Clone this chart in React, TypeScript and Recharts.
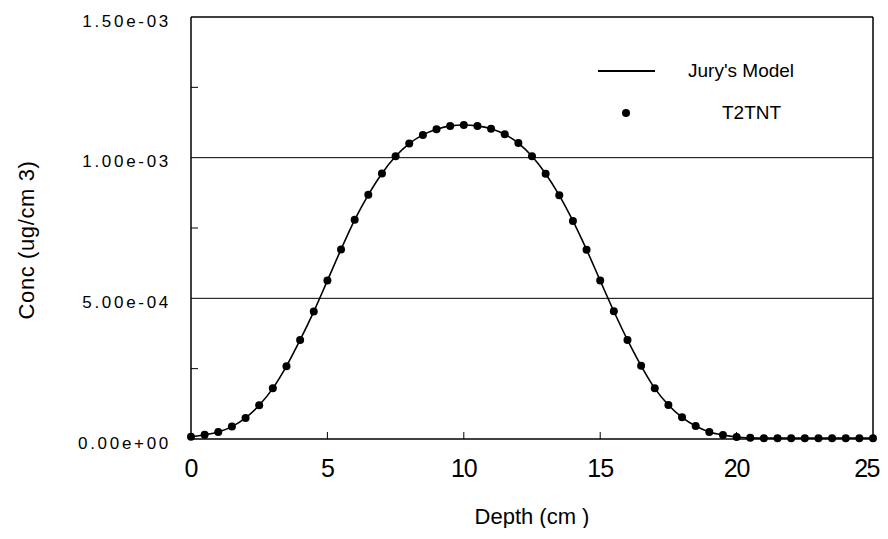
import React from 'react';
import { ComposedChart, Line, Scatter, XAxis, YAxis, ReferenceLine } from 'recharts';

const depths: number[] = [
  0, 0.5, 1, 1.5, 2, 2.5, 3, 3.5, 4, 4.5, 5, 5.5, 6, 6.5, 7, 7.5, 8, 8.5, 9, 9.5,
  10, 10.5, 11, 11.5, 12, 12.5, 13, 13.5, 14, 14.5, 15, 15.5, 16, 16.5, 17, 17.5,
  18, 18.5, 19, 19.5, 20, 20.5, 21, 21.5, 22, 22.5, 23, 23.5, 24, 24.5, 25,
];

// concentration in units of 1e-3 ug/cm3
const concMilli: number[] = [
  0.008, 0.015, 0.025, 0.044, 0.075, 0.12, 0.18, 0.259, 0.352, 0.453,
  0.563, 0.674, 0.779, 0.868, 0.944, 1.005, 1.05, 1.081, 1.101, 1.113,
  1.116, 1.113, 1.103, 1.083, 1.052, 1.005, 0.943, 0.866, 0.775, 0.673,
  0.563, 0.454, 0.352, 0.26, 0.18, 0.121, 0.077, 0.046, 0.025, 0.014,
  0.007, 0.004, 0.003, 0.003, 0.003, 0.003, 0.003, 0.003, 0.003, 0.003, 0.003,
];

const xTicks: number[] = [0, 5, 10, 15, 20, 25];
const yTicks: number[] = [0, 0.00025, 0.0005, 0.00075, 0.001, 0.00125, 0.0015];
const yMajor: number[] = [0, 0.0005, 0.001, 0.0015];
const gridLines: number[] = [0.0005, 0.001];
const seriesNames: string[] = ["Jury's Model", 'T2TNT'];
const xTitle = 'Depth (cm )';
const yTitle = 'Conc (ug/cm 3)';

const data = depths.map((d, i) => ({ depth: d, conc: concMilli[i] / 1000 }));

const FONT = 'Arial, "Liberation Sans", Helvetica, sans-serif';

const isMajor = (v: number) => yMajor.some((m) => Math.abs(m - v) < 1e-9);
const fmtExp = (v: number) => v.toExponential(2).replace(/e([+-])(\d)$/, 'e$10$2');

const LeftTick = (props: any) => {
  const { x, y, payload } = props;
  const v = payload.value as number;
  const major = isMajor(v);
  return (
    <g>
      {!major && <line x1={x} x2={x + 7} y1={y} y2={y} stroke="#000" strokeWidth={1} />}
      {major && (
        <text
          x={x - 20}
          y={y + 4}
          textAnchor="end"
          dominantBaseline="central"
          fontFamily={FONT}
          fontSize={17}
          letterSpacing={2.7}
          fill="#000"
        >
          {fmtExp(v)}
        </text>
      )}
    </g>
  );
};

const RightTick = (props: any) => {
  const { x, y, payload } = props;
  const v = payload.value as number;
  if (isMajor(v)) return <g />;
  return <line x1={x - 7} x2={x} y1={y} y2={y} stroke="#000" strokeWidth={1} />;
};

const BottomTick = (props: any) => {
  const { x, y, payload } = props;
  const v = payload.value as number;
  const last = v === xTicks[xTicks.length - 1];
  const inner = v !== xTicks[0] && !last;
  return (
    <g>
      {inner && <line x1={x} x2={x} y1={y} y2={y - 7} stroke="#000" strokeWidth={1} />}
      <text
        x={last ? Math.min(x + 13, 871) : x}
        y={y + 38}
        textAnchor={last ? 'end' : 'middle'}
        fontFamily={FONT}
        fontSize={25}
        letterSpacing={last ? -1.5 : -1}
        fill="#000"
      >
        {String(v)}
      </text>
    </g>
  );
};

const XTitle = (props: any) => {
  const vb = props.viewBox || {};
  const cx = (vb.x ?? 183) + (vb.width ?? 682) / 2;
  return (
    <text
      x={cx}
      y={516}
      textAnchor="middle"
      fontFamily={FONT}
      fontSize={22}
      fill="#000"
    >
      {xTitle}
    </text>
  );
};

const YTitle = (props: any) => {
  const vb = props.viewBox || {};
  const cy = (vb.y ?? 9) + (vb.height ?? 422) / 2 + 12;
  const cx = 18;
  return (
    <text
      x={cx}
      y={cy}
      transform={`rotate(-90, ${cx}, ${cy})`}
      textAnchor="middle"
      dominantBaseline="central"
      fontFamily={FONT}
      fontSize={22}
      letterSpacing={0.6}
      fill="#000"
    >
      {yTitle}
    </text>
  );
};

const LegendBox = () => (
  <div
    style={{
      position: 'absolute',
      left: 580,
      top: 40,
      width: 260,
      height: 100,
      fontFamily: FONT,
      color: '#000',
      pointerEvents: 'none',
    }}
  >
    <div style={{ position: 'absolute', left: 10, top: 22, width: 57, height: 2, background: '#000' }} />
    <div style={{ position: 'absolute', left: 100, top: 12, height: 22, lineHeight: '22px', fontSize: 19, whiteSpace: 'nowrap' }}>
      {seriesNames[0]}
    </div>
    <div style={{ position: 'absolute', left: 34, top: 61, width: 8, height: 8, borderRadius: 4, background: '#000' }} />
    <div style={{ position: 'absolute', left: 134, top: 54, height: 22, lineHeight: '22px', fontSize: 19, whiteSpace: 'nowrap' }}>
      {seriesNames[1]}
    </div>
  </div>
);

const Dot = (props: any) => {
  const { cx, cy } = props;
  return <circle cx={cx} cy={cy} r={4} fill="#000" />;
};

export default function App() {
  return (
    <div style={{ position: 'relative', width: 880, height: 520 }}>
      <style>{'html, body { overflow: hidden; } .recharts-surface { overflow: visible; }'}</style>
      <ComposedChart
        width={880}
        height={520}
        data={data}
        margin={{ top: 9, right: 0, bottom: 0, left: 0 }}
        style={{ fontFamily: FONT }}
      >
        <XAxis
          dataKey="depth"
          type="number"
          domain={[0, 25]}
          ticks={xTicks}
          interval={0}
          height={89}
          tickSize={0}
          tickMargin={0}
          tickLine={false}
          axisLine={{ stroke: '#000', strokeWidth: 1.5 }}
          tick={<BottomTick />}
          label={<XTitle />}
        />
        <YAxis
          type="number"
          domain={[0, 0.0015]}
          ticks={yTicks}
          interval={0}
          width={183}
          tickSize={0}
          tickMargin={0}
          tickLine={false}
          axisLine={{ stroke: '#000', strokeWidth: 1.5 }}
          tick={<LeftTick />}
          label={<YTitle />}
        />
        <YAxis
          yAxisId="r"
          orientation="right"
          type="number"
          domain={[0, 0.0015]}
          ticks={yTicks}
          interval={0}
          width={15}
          tickSize={0}
          tickMargin={0}
          tickLine={false}
          axisLine={{ stroke: '#000', strokeWidth: 1.5 }}
          tick={<RightTick />}
        />
        {gridLines.map((g) => (
          <ReferenceLine key={g} y={g} stroke="#000" strokeWidth={1} />
        ))}
        <ReferenceLine y={0.0015} stroke="#000" strokeWidth={1.5} />
        <Line
          name={seriesNames[0]}
          dataKey="conc"
          type="monotone"
          stroke="#000"
          strokeWidth={1.6}
          dot={false}
          activeDot={false}
          isAnimationActive={false}
        />
        <Scatter name={seriesNames[1]} dataKey="conc" fill="#000" shape={<Dot />} isAnimationActive={false} />
      </ComposedChart>
      <LegendBox />
    </div>
  );
}
